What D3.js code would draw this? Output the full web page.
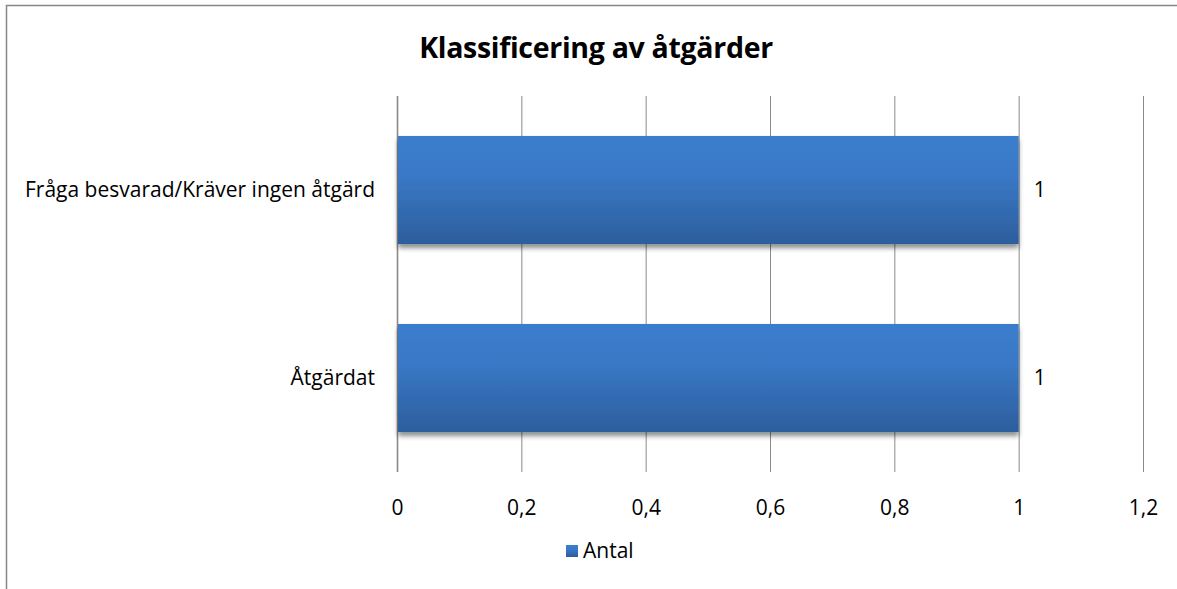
<!DOCTYPE html>
<html>
<head>
<meta charset="utf-8">
<script src="https://cdnjs.cloudflare.com/ajax/libs/d3/7.8.5/d3.min.js"></script>
<style>
  html, body { margin: 0; padding: 0; background: #fff; }
  svg { display: block; }
  text { font-family: "Open Sans", Lato, "Liberation Sans", sans-serif; fill: #000; }
</style>
</head>
<body>
<div id="chart"></div>
<script>
// Chart data
const title = "Klassificering av åtgärder";
const categories = ["Fråga besvarad/Kräver ingen åtgärd", "Åtgärdat"];
const values = [1, 1];
const seriesName = "Antal";
const tickValues = [0, 0.2, 0.4, 0.6, 0.8, 1, 1.2];
const tickLabels = ["0", "0,2", "0,4", "0,6", "0,8", "1", "1,2"];

const W = 1177, H = 589;
const plot = { left: 397, right: 1143, top: 96, bottom: 472 };
const FONT = "'Open Sans', Lato, sans-serif";
const FS = 21;

const svg = d3.select("#chart").append("svg")
  .attr("width", W).attr("height", H);

const defs = svg.append("defs");
const grad = defs.append("linearGradient")
  .attr("id", "barGrad").attr("x1", 0).attr("y1", 0).attr("x2", 0).attr("y2", 1);
grad.append("stop").attr("offset", "0%").attr("stop-color", "#3b7dcd");
grad.append("stop").attr("offset", "35%").attr("stop-color", "#3a79c7");
grad.append("stop").attr("offset", "100%").attr("stop-color", "#2c5e9d");

const shadow = defs.append("filter").attr("id", "barShadow")
  .attr("x", "-5%").attr("y", "-10%").attr("width", "110%").attr("height", "130%");
shadow.append("feGaussianBlur").attr("in", "SourceAlpha").attr("stdDeviation", 2.5).attr("result", "b");
shadow.append("feOffset").attr("in", "b").attr("dx", 0).attr("dy", 4).attr("result", "o");
shadow.append("feComponentTransfer").attr("in", "o").attr("result", "s")
  .append("feFuncA").attr("type", "linear").attr("slope", 0.45);
const merge = shadow.append("feMerge");
merge.append("feMergeNode").attr("in", "s");
merge.append("feMergeNode").attr("in", "SourceGraphic");

// Outer frame (top and left edges visible)
svg.append("path")
  .attr("d", `M6.5,${H} V5.5 H${W}`)
  .attr("fill", "none").attr("stroke", "#878787").attr("stroke-width", 1.5);

// Title
svg.append("text")
  .attr("x", 596).attr("y", 58)
  .attr("text-anchor", "middle")
  .attr("font-size", 28.5).attr("font-weight", "bold")
  .attr("letter-spacing", -0.3)
  .text(title);

const x = d3.scaleLinear().domain([0, 1.2]).range([plot.left, plot.right]);
const y = d3.scaleBand().domain(categories).range([plot.top, plot.bottom]).paddingInner(0.425).paddingOuter(0.2125);

// Vertical gridlines
const grid = svg.append("g")
  .attr("transform", `translate(0,${plot.bottom})`)
  .call(d3.axisBottom(x).tickValues(tickValues).tickSize(-(plot.bottom - plot.top)).tickFormat(""));
grid.select(".domain").remove();
grid.selectAll(".tick line")
  .attr("stroke", "#8a8a8a")
  .attr("stroke-width", (d) => d === 0 ? 1.6 : 1);

// Value axis labels
const xAxis = svg.append("g")
  .attr("transform", `translate(0,${plot.bottom + 25})`)
  .call(d3.axisBottom(x).tickValues(tickValues).tickSize(0)
    .tickFormat((d, i) => tickLabels[i]));
xAxis.select(".domain").remove();
xAxis.selectAll("text").attr("font-size", FS).attr("dy", "0.71em")
  .style("font-family", FONT);

// Category labels
const yAxis = svg.append("g")
  .attr("transform", `translate(${plot.left - 22},0)`)
  .call(d3.axisLeft(y).tickSize(0));
yAxis.select(".domain").remove();
yAxis.selectAll("text").attr("font-size", FS).attr("x", 0)
  .style("font-family", FONT);

// Bars
svg.append("g").selectAll("rect")
  .data(categories)
  .join("rect")
  .attr("x", x(0) + 1)
  .attr("y", (d) => y(d))
  .attr("width", (d, i) => x(values[i]) - x(0) - 1)
  .attr("height", y.bandwidth())
  .attr("fill", "url(#barGrad)")
  .attr("filter", "url(#barShadow)");

// Data labels
svg.append("g").selectAll("text")
  .data(categories)
  .join("text")
  .attr("x", (d, i) => x(values[i]) + 21)
  .attr("y", (d) => y(d) + y.bandwidth() / 2)
  .attr("dy", "0.35em")
  .attr("text-anchor", "middle")
  .attr("font-size", FS)
  .text((d, i) => String(values[i]).replace(".", ","));

// Legend
const legend = svg.append("g").attr("transform", "translate(566,545)");
legend.append("rect").attr("width", 12).attr("height", 12).attr("fill", "url(#barGrad)");
legend.append("text").attr("x", 17).attr("y", 6).attr("dy", "0.35em")
  .attr("font-size", FS).text(seriesName);
</script>
</body>
</html>
